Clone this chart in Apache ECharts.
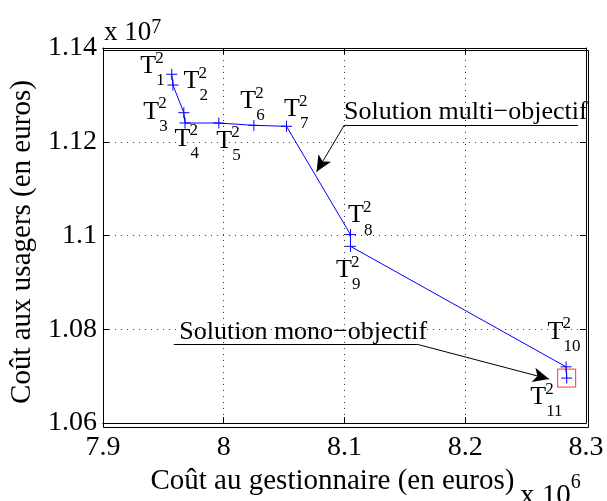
<!DOCTYPE html>
<html>
<head>
<meta charset="utf-8">
<script src="https://cdn.jsdelivr.net/npm/echarts@6/dist/echarts.min.js"></script>
<style>
html,body{margin:0;padding:0;background:#fff;}
#c{width:607px;height:501px;}
</style>
</head>
<body>
<div id="c"></div>
<script>
// Data (x in units of 10^6 euros, y in units of 10^7 euros)
const pointNames = ['1','2','3','4','5','6','7','8','9','10','11'];
const costManager = [7.957, 7.958, 7.967, 7.968, 7.996, 8.025, 8.052, 8.105, 8.105, 8.2835, 8.284];
const costUsers   = [1.1344, 1.1321, 1.1262, 1.1240, 1.1240, 1.1235, 1.1233, 1.1002, 1.0977, 1.0720, 1.0696];
const xTicks = [7.9, 8, 8.1, 8.2, 8.3];
const yTicks = [1.06, 1.08, 1.1, 1.12, 1.14];
const monoIndex = 10;

// Annotation anchors (data units)
const multiText = {x: 8.0992, y: 1.1264, text: 'Solution multi\u2212objectif'};
const multiLine = {x1: 8.1, x2: 8.2934, y: 1.1236, tx: 8.0769, ty: 1.1136};
const monoText = {x: 7.9628, y: 1.0794, text: 'Solution mono\u2212objectif'};
const monoLine = {x1: 7.9587, x2: 8.1603, y: 1.0768, tx: 8.2694, ty: 1.0694};

// Label offsets (pixels, T cap-top relative to point) – styling only
const labelOffsets = [[-31,-16],[11,-12],[-40,-9],[-10,8],[-2,10],[-13,-32],[-2,-25],[-2,-27],[-14,16],[-18,-43],[-36,11]];

const FONT = "'Liberation Serif', 'Times New Roman', serif";
const chart = echarts.init(document.getElementById('c'), null, {renderer:'canvas'});

const SYM = 11;
const capShift = 3.5 - SYM/2;
const lineData = costManager.map((x,i)=>({
  value:[x, costUsers[i]],
  label:{
    show:true,
    position:[labelOffsets[i][0] + SYM/2, labelOffsets[i][1] - capShift],
    align:'left', verticalAlign:'top',
    fontFamily:FONT,
    formatter:'{g| }{s|2}\n{T|T}\n{g3| }{s3|'+pointNames[i]+'}',
    rich:{
      g:{width:15, fontSize:17, lineHeight:8, fontFamily:FONT},
      s:{fontSize:17, lineHeight:8, fontFamily:FONT, color:'#000'},
      T:{fontSize:26, lineHeight:8, fontFamily:FONT, color:'#000'},
      g3:{width:16, fontSize:17, lineHeight:21, fontFamily:FONT},
      s3:{fontSize:17, lineHeight:21, fontFamily:FONT, color:'#000'}
    }
  }
}));

const axisCommon = {
  axisLine:{show:true, lineStyle:{color:'#000', width:1}},
  axisTick:{show:true, inside:true, length:6, lineStyle:{color:'#000'}},
  splitLine:{show:false}
};

chart.setOption({
  animation:false,
  backgroundColor:'#fff',
  textStyle:{fontFamily:FONT},
  grid:{left:101, right:21, top:48, bottom:76, show:false},
  xAxis:[
    Object.assign({}, axisCommon, {
      type:'value', min:7.9, max:8.3, interval:0.1, position:'bottom',
      axisLabel:{color:'#000', fontSize:28, fontFamily:FONT, margin:11},
      splitLine:{show:true, lineStyle:{color:'#333', type:[1,5], width:1}},
      name:'Co\u00fbt au gestionnaire (en euros)', nameLocation:'middle', nameGap:30,
      nameTextStyle:{color:'#000', fontSize:29, fontFamily:FONT, padding:[0,24,0,0]}
    }),
    Object.assign({}, axisCommon, {
      type:'value', min:7.9, max:8.3, interval:0.1, position:'top',
      axisLabel:{show:false}
    })
  ],
  yAxis:[
    Object.assign({}, axisCommon, {
      type:'value', min:1.06, max:1.14, interval:0.02, position:'left',
      axisLabel:{color:'#000', fontSize:28, fontFamily:FONT, margin:6,
        formatter:v=>String(+v.toFixed(2))},
      splitLine:{show:true, lineStyle:{color:'#333', type:[1,5], width:1}},
      name:'Co\u00fbt aux usagers (en euros)', nameLocation:'middle', nameGap:60,
      nameTextStyle:{color:'#000', fontSize:29, fontFamily:FONT, padding:[0,13,0,0]}
    }),
    Object.assign({}, axisCommon, {
      type:'value', min:1.06, max:1.14, interval:0.02, position:'right',
      axisLabel:{show:false}
    })
  ],
  series:[
    {
      type:'line',
      data:lineData,
      symbol:'path://M0,5L10,5M5,0L5,10',
      symbolSize:SYM,
      showAllSymbol:true,
      lineStyle:{color:'#0000ff', width:1},
      itemStyle:{color:'#0000ff', borderColor:'#0000ff', borderWidth:1},
      emphasis:{disabled:true},
      z:3
    },
    {
      type:'scatter',
      data:[[costManager[monoIndex], costUsers[monoIndex]]],
      symbol:'rect', symbolSize:18,
      itemStyle:{color:'rgba(0,0,0,0)', borderColor:'#ff0000', borderWidth:1},
      emphasis:{disabled:true},
      silent:true,
      z:4,
      markLine:{
        silent:true, animation:false,
        label:{show:false},
        lineStyle:{color:'#000', width:1, type:'solid'},
        data:[
          [{coord:[multiLine.x1, multiLine.y], symbol:'none'},{coord:[multiLine.x2, multiLine.y], symbol:'none'}],
          [{coord:[multiLine.x1, multiLine.y], symbol:'none'},{coord:[multiLine.tx, multiLine.ty], symbol:'arrow', symbolSize:[11,16]}],
          [{coord:[monoLine.x1, monoLine.y], symbol:'none'},{coord:[monoLine.x2, monoLine.y], symbol:'none'}],
          [{coord:[monoLine.x2, monoLine.y], symbol:'none'},{coord:[monoLine.tx, monoLine.ty], symbol:'arrow', symbolSize:[11,16]}]
        ]
      },
      markPoint:{
        silent:true, animation:false,
        symbol:'rect', symbolSize:1,
        itemStyle:{color:'rgba(0,0,0,0)'},
        label:{show:true, position:'right', distance:0, color:'#000', fontSize:26, fontFamily:FONT},
        data:[
          {coord:[multiText.x, multiText.y], label:{formatter:multiText.text}},
          {coord:[monoText.x, monoText.y], label:{formatter:monoText.text}}
        ]
      }
    }
  ],
  graphic:[
    {type:'rect', left:101, top:48, shape:{width:485, height:377}, style:{fill:'none', stroke:'#000', lineWidth:1}, silent:true, z:10},
    {type:'text', left:104, top:18, style:{text:'{a|x 10}{b|7}', rich:{a:{fontSize:27, fontFamily:FONT, fill:'#000', lineHeight:28, verticalAlign:'bottom'}, b:{fontSize:20, fontFamily:FONT, fill:'#000', verticalAlign:'top', lineHeight:28}}}},
    {type:'text', left:520, top:473, style:{text:'{a|x 10}{b|6}', rich:{a:{fontSize:29, fontFamily:FONT, fill:'#000', lineHeight:38, verticalAlign:'bottom'}, b:{fontSize:20, fontFamily:FONT, fill:'#000', verticalAlign:'top', lineHeight:38}}}}
  ]
});
</script>
</body>
</html>
